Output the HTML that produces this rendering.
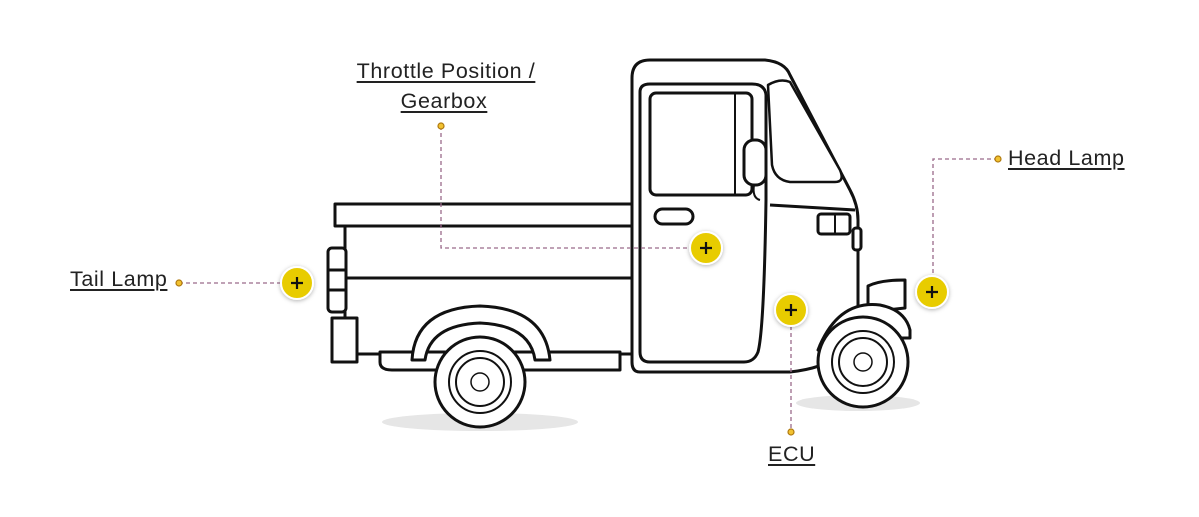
<!DOCTYPE html>
<html><head><meta charset="utf-8"><style>
html,body{margin:0;padding:0;background:#fff;}
body{width:1199px;height:517px;overflow:hidden;position:relative;font-family:"Liberation Sans",sans-serif;}
.lbl{position:absolute;font-size:21.5px;letter-spacing:0.6px;color:#222;text-decoration:underline;text-underline-offset:3px;text-decoration-thickness:2px;white-space:nowrap;}
.c{width:300px;text-align:center;}
</style></head><body>
<svg width="1199" height="517" viewBox="0 0 1199 517" style="position:absolute;left:0;top:0">
<defs>
<filter id="sh" x="-50%" y="-50%" width="200%" height="200%"><feDropShadow dx="0" dy="1" stdDeviation="2" flood-color="#000" flood-opacity="0.3"/></filter>
</defs>
<ellipse cx="480" cy="422" rx="98" ry="9" fill="#e6e6e6"/>
<ellipse cx="858" cy="403" rx="62" ry="8" fill="#e6e6e6"/>
<g fill="#fff" stroke="#111" stroke-width="3" stroke-linejoin="round">
<rect x="345" y="224" width="290" height="130"/>
<line x1="345" y1="278" x2="632" y2="278"/>
<rect x="335" y="204" width="300" height="22"/>
<rect x="328" y="248" width="18" height="64" rx="4"/>
<line x1="328" y1="270" x2="345" y2="270"/><line x1="328" y1="290" x2="345" y2="290"/>
<rect x="332" y="318" width="25" height="44"/>
<path d="M380 352 L380 362 Q380 370 392 370 L620 370 L620 352 Z"/>
<path d="M412 360 Q415 308 480 306 Q545 308 550 360 L535 360 Q530 325 480 323 Q430 325 425 360 Z"/>
<path d="M632 78 Q632 60 650 60 L765 60 Q785 62 790 75 L850 190 Q858 205 858 220 L858 320 Q855 365 790 372 L640 372 Q632 372 632 362 Z"/>
<path d="M640 92 Q640 84 650 84 L752 84 Q765 84 766 95 L766 200 Q764 330 758 352 Q754 362 744 362 L650 362 Q640 362 640 352 Z"/>
<rect x="650" y="93" width="102" height="102" rx="6"/>
<line x1="735" y1="94" x2="735" y2="194" stroke-width="2"/>
<rect x="655" y="209" width="38" height="15" rx="7.5"/>
<path d="M768 85 Q780 78 790 82 L840 170 Q845 182 835 182 L790 182 Q775 180 772 165 Z" stroke-width="2.5"/>
<path d="M770 205 L855 210" fill="none"/>
<rect x="744" y="140" width="22" height="45" rx="10"/>
<path d="M754 185 Q752 198 760 200" fill="none" stroke-width="2"/>
<rect x="818" y="214" width="32" height="20" rx="3"/>
<line x1="835" y1="215" x2="835" y2="233" stroke-width="2"/>
<rect x="853" y="228" width="8" height="22" rx="3"/>
<path d="M868 286 Q880 280 905 280 L905 308 L868 312 Z"/>
<path d="M820 345 Q840 300 880 305 Q905 310 910 330 L910 338 L840 338 Q825 340 818 350 Z"/>
<circle cx="480" cy="382" r="45"/>
<circle cx="480" cy="382" r="31" stroke-width="2"/>
<circle cx="480" cy="382" r="24" stroke-width="2"/>
<circle cx="480" cy="382" r="9" stroke-width="1.5"/>
<circle cx="863" cy="362" r="45"/>
<circle cx="863" cy="362" r="31" stroke-width="2"/>
<circle cx="863" cy="362" r="24" stroke-width="2"/>
<circle cx="863" cy="362" r="9" stroke-width="1.5"/>
</g>
<g fill="none" stroke="#9a6a8a" stroke-width="1.3" stroke-dasharray="4 3">
<path d="M441 126 L441 248 L690 248"/>
<path d="M179 283 L282 283"/>
<path d="M998 159 L933 159 L933 277"/>
<path d="M791 326 L791 432"/>
</g>
<g fill="#f2c230" stroke="#b07a10" stroke-width="1.2">
<circle cx="441" cy="126" r="3"/><circle cx="179" cy="283" r="3"/><circle cx="998" cy="159" r="3"/><circle cx="791" cy="432" r="3"/>
</g>
<g filter="url(#sh)">
<circle cx="297" cy="283" r="16" fill="#e8cc00" stroke="#fff" stroke-width="2"/>
<circle cx="706" cy="248" r="16" fill="#e8cc00" stroke="#fff" stroke-width="2"/>
<circle cx="791" cy="310" r="16" fill="#e8cc00" stroke="#fff" stroke-width="2"/>
<circle cx="932" cy="292" r="16" fill="#e8cc00" stroke="#fff" stroke-width="2"/>
</g>
<g stroke="#111" stroke-width="2.2">
<path d="M291 283h12M297 277v12"/><path d="M700 248h12M706 242v12"/><path d="M785 310h12M791 304v12"/><path d="M926 292h12M932 286v12"/>
</g>
</svg>
<div class="lbl c" style="left:296px;top:59px;">Throttle Position /</div>
<div class="lbl c" style="left:294px;top:89px;">Gearbox</div>
<div class="lbl" style="left:70px;top:267px;">Tail Lamp</div>
<div class="lbl" style="left:1008px;top:146px;">Head Lamp</div>
<div class="lbl" style="left:768px;top:442px;">ECU</div>
</body></html>
